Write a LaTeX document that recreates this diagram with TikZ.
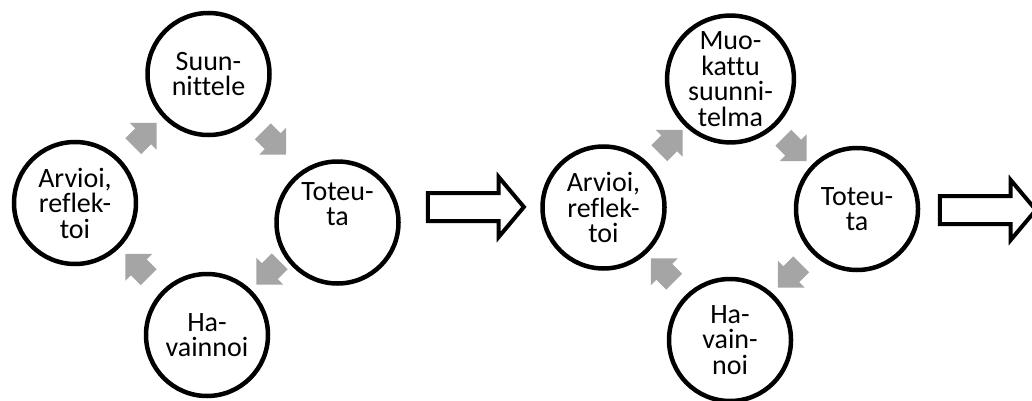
\documentclass[tikz,border=0pt]{standalone}
\usepackage{fontspec}
\setmainfont{Carlito}[Ligatures=NoCommon]
\usetikzlibrary{shapes.arrows}
\definecolor{arrgray}{HTML}{A5A5A5}
\tikzset{
  circ/.style={circle, draw=black, line width=4.5pt, minimum size=122pt, inner sep=0pt,
    align=center, font=\fontsize{28}{25.5}\selectfont},
  txt/.style={inner sep=0pt, align=center, font=\fontsize{28}{25.5}\selectfont},
  grayarr/.style={single arrow, fill=arrgray, draw=none, minimum height=33pt,
    inner xsep=0pt, inner ysep=11pt, single arrow head extend=7.75pt,
    single arrow tip angle=90},
  bigarr/.style={single arrow, draw=black, fill=white, line width=4pt,
    minimum height=96pt, inner xsep=0pt, inner ysep=12pt,
    single arrow head extend=16pt, single arrow tip angle=100}
}
\begin{document}
\begin{tikzpicture}[x=1pt,y=-1pt]
\useasboundingbox (0,0) rectangle (1032,401);
% left cycle
\node[circ] (s) at (208.5,74) {Suun-\\nittele};
\node[circ] (a) at (75,203) {Arvioi,\\reflek-\\toi};
\node[circ] (t) at (337.5,222.5) {};
\node[txt] (tt) at (337.5,204) {Toteu-\\ta};
\node[circ] (h) at (207,335) {Ha-\\vainnoi};
\node[grayarr, rotate=45] (g1) at (141,138.5) {};
\node[grayarr, rotate=-45] (g2) at (270.5,139) {};
\node[grayarr, rotate=-135] (g3) at (272,269) {};
\node[grayarr, rotate=135] (g4) at (141,269.5) {};
\node[bigarr] (b1) at (470,207) {};
% right cycle
\node[circ] (m2) at (730.5,79) {Muo-\\kattu\\suunni-\\telma};
\node[circ] (a2) at (603.5,207.5) {Arvioi,\\reflek-\\toi};
\node[circ] (t2) at (857,209) {Toteu-\\ta};
\node[circ] (h2) at (730,340) {Ha-\\vain-\\noi};
\node[grayarr, rotate=45] (r1) at (667,145.5) {};
\node[grayarr, rotate=-45] (r2) at (791,145.5) {};
\node[grayarr, rotate=-135] (r3) at (793.5,272) {};
\node[grayarr, rotate=135] (r4) at (666.5,274) {};
\node[bigarr] (b2) at (982,210) {};
\end{tikzpicture}
\end{document}
